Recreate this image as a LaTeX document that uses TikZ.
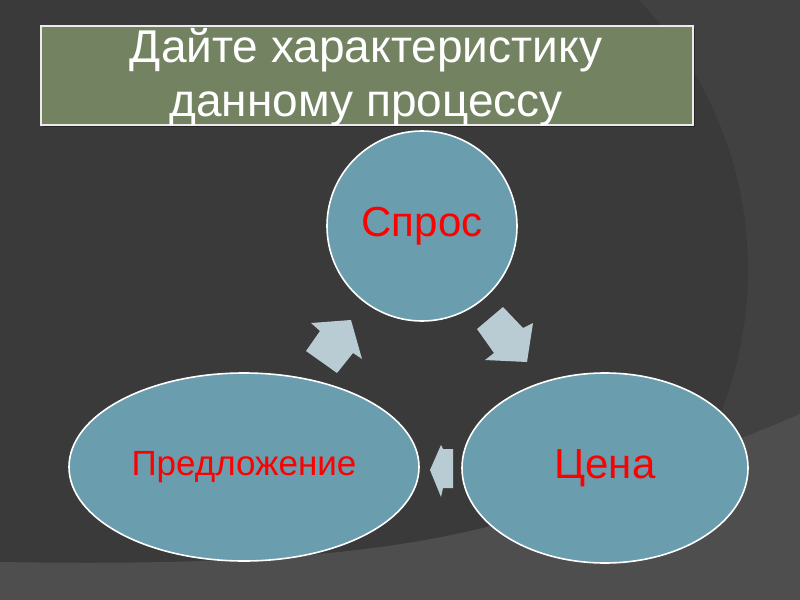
\documentclass[tikz,border=0pt]{standalone}
\usepackage{fontspec}
\setmainfont{Liberation Sans}
\usetikzlibrary{shapes.geometric}
\begin{document}
\begin{tikzpicture}[x=1bp,y=-1bp]
\definecolor{bgdark}{RGB}{58,58,58}
\definecolor{bgmid}{RGB}{65,65,65}
\definecolor{bglight}{RGB}{78,78,78}
\definecolor{titlefill}{RGB}{115,130,96}
\definecolor{shapefill}{RGB}{106,158,174}
\definecolor{arrowfill}{RGB}{186,204,211}
\tikzset{
  bubble/.style={draw=white, line width=1.6bp, fill=shapefill, inner sep=0pt},
  blockarrow/.style={fill=arrowfill, draw=none},
  labeltext/.style={text=red, font=\fontsize{42bp}{48bp}\selectfont},
  titleline/.style={text=white, anchor=base, inner sep=0pt, font=\fontsize{46bp}{53bp}\selectfont}
}
\useasboundingbox (0,0) rectangle (800,600);
% background
\fill[bgdark] (0,0) rectangle (800,600);
\begin{scope}
  \clip (500,0) rectangle (800,600);
  \fill[bgmid, even odd rule] (500,0) rectangle (800,600) (359,270) circle[radius=389];
\end{scope}
\fill[bglight] (0,562) .. controls (250,566) and (420,555) .. (560,505)
  .. controls (660,470) and (740,440) .. (800,414) -- (800,600) -- (0,600) -- cycle;
% title
\fill[black, opacity=0.35] (43,28) rectangle (695,127);
\node[draw=white!92!black, line width=1.6bp, fill=titlefill, minimum width=652bp, minimum height=99bp, anchor=north west, inner sep=0pt] (title) at (40,25) {};
\node[titleline] (titleA) at (366,63) {Дайте характеристику};
\node[titleline] (titleB) at (366,117) {данному процессу};
% shapes
\node[bubble, circle, minimum size=190bp] (spros) at (422,226) {};
\node[bubble, ellipse, minimum width=286bp, minimum height=190bp] (cena) at (605,468) {};
\node[bubble, ellipse, minimum width=350bp, minimum height=188bp] (predl) at (244,467) {};
\node[labeltext] at (spros.center) {Спрос};
\node[labeltext] at (cena.center) {Цена};
\node[labeltext, font=\fontsize{35bp}{40bp}\selectfont] at (predl.center) {Предложение};
% block arrows
\fill[blockarrow] (306,351) -- (320,331) -- (311,323) -- (351,320) -- (362,359) -- (353,353) -- (337,373) -- cycle;
\fill[blockarrow] (477,329) -- (494,353) -- (485,360) -- (527,362) -- (533,323) -- (523,328) -- (503,307) -- cycle;
\fill[blockarrow] (453,449) -- (443,449) -- (441,445) -- (430,470) -- (441,497) -- (443,488) -- (453,488) -- cycle;
\end{tikzpicture}
\end{document}
